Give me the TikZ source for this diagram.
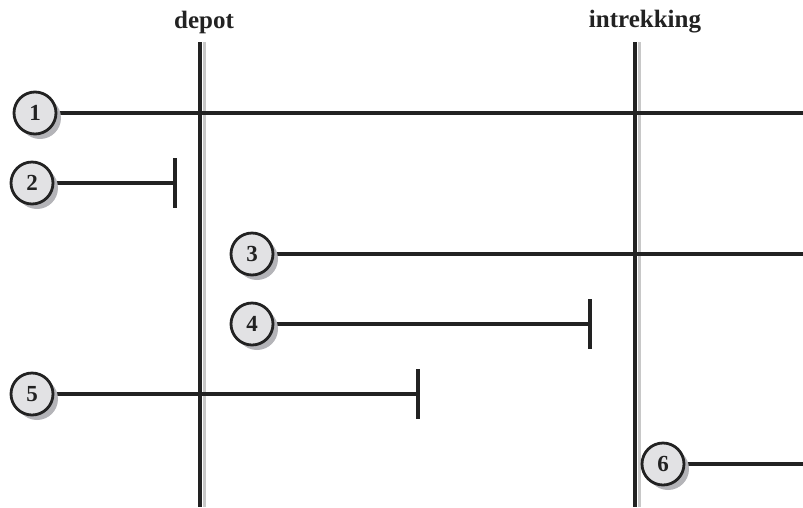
\documentclass[tikz,border=0pt]{standalone}
\usepackage{fontspec}
\setmainfont{Liberation Serif}
\usetikzlibrary{shadows}
\definecolor{ink}{HTML}{222222}
\definecolor{ballfill}{HTML}{E2E2E4}
\definecolor{shadowgray}{HTML}{B4B4B8}
\definecolor{railgray}{HTML}{C8C8C8}
\tikzset{
  x=1pt, y=-1pt,
  num/.style={circle, draw=ink, line width=2.8pt, fill=ballfill, minimum size=42pt, inner sep=0pt,
    font=\fontsize{23}{23}\selectfont\bfseries, text=ink,
    drop shadow={shadow xshift=5pt, shadow yshift=-5pt, fill=shadowgray, opacity=1}},
  bar/.style={draw=ink, line width=3.2pt},
  rail/.style={draw=ink, line width=3.5pt},
  railshade/.style={draw=railgray, line width=3pt},
  head/.style={font=\fontsize{25}{25}\selectfont\bfseries, text=ink}
}
\begin{document}
\begin{tikzpicture}
\useasboundingbox (0,0) rectangle (803,507);
% event columns
\node[head] (hdepot) at (204,22) {depot};
\node[head] (hintr) at (645,22) {intrekking};
\coordinate (d0) at (200,42); \coordinate (d1) at (200,507);
\coordinate (i0) at (635,42); \coordinate (i1) at (635,507);
\draw[railshade] ([xshift=4pt]d0) -- ([xshift=4pt]d1);
\draw[railshade] ([xshift=4pt]i0) -- ([xshift=4pt]i1);
\draw[rail] (d0) -- (d1);
\draw[rail] (i0) -- (i1);
% line end points
\coordinate (e1) at (803,113);
\coordinate (e2) at (175,183);
\coordinate (e3) at (803,254);
\coordinate (e4) at (590,324);
\coordinate (e5) at (418,394);
\coordinate (e6) at (803,464);
% cases
\draw[bar] (35,113) -- (e1);
\draw[bar] (32,183) -- (e2);
\draw[bar] (252,254) -- (e3);
\draw[bar] (252,324) -- (e4);
\draw[bar] (32,394) -- (e5);
\draw[bar] (663,464) -- (e6);
% end ticks
\draw[bar] ([yshift=25pt]e2) -- ([yshift=-25pt]e2);
\draw[bar] ([yshift=25pt]e4) -- ([yshift=-25pt]e4);
\draw[bar] ([yshift=25pt]e5) -- ([yshift=-25pt]e5);
\node[num] (n1) at (35,113) {1};
\node[num] (n2) at (32,183) {2};
\node[num] (n3) at (252,254) {3};
\node[num] (n4) at (252,324) {4};
\node[num] (n5) at (32,394) {5};
\node[num] (n6) at (663,464) {6};
\end{tikzpicture}
\end{document}
